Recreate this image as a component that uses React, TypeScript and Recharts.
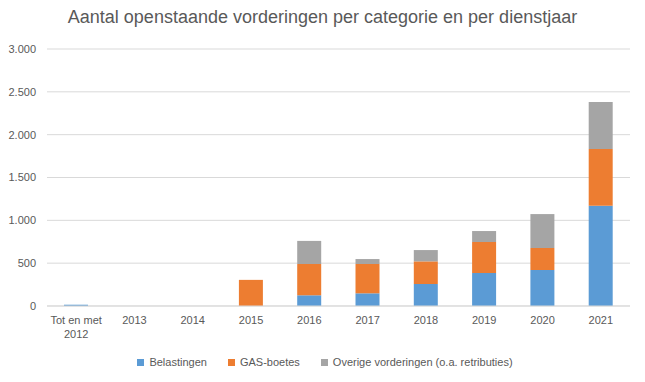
import React from "react";
import { BarChart, Bar, XAxis, YAxis, CartesianGrid, Legend } from "recharts";

const categories = ["Tot en met 2012", "2013", "2014", "2015", "2016", "2017", "2018", "2019", "2020", "2021"];
const belastingen = [15, 0, 0, 0, 125, 148, 257, 385, 420, 1170];
const gasBoetes = [0, 0, 0, 305, 365, 342, 264, 362, 257, 662];
const overige = [0, 0, 0, 0, 270, 58, 132, 128, 396, 548];
const yTicks = [0, 500, 1000, 1500, 2000, 2500, 3000];

const data = categories.map((c, i) => ({
  cat: c,
  belastingen: belastingen[i],
  gas: gasBoetes[i],
  overige: overige[i],
}));

const FONT = "'Liberation Sans', Arial, sans-serif";
const TEXT = "#595959";

const fmt = (v: number) => v.toLocaleString("nl-NL");

const CatTick = (props: any) => {
  const { x, y, payload } = props;
  const label: string = payload.value;
  const cut = label.lastIndexOf(" ");
  const lines = label.length > 6 ? [label.slice(0, cut), label.slice(cut + 1)] : [label];
  return (
    <text x={x} y={y} textAnchor="middle" fill={TEXT} fontSize={11} fontFamily={FONT}>
      {lines.map((l, i) => (
        <tspan key={i} x={x} dy={i === 0 ? 10 : 14}>{l}</tspan>
      ))}
    </text>
  );
};

const LegendContent = (props: any) => {
  const { payload } = props;
  return (
    <div style={{ display: "flex", justifyContent: "center", fontFamily: FONT, fontSize: 11, color: TEXT, paddingLeft: 20 }}>
      {payload.map((p: any, i: number) => (
        <div key={i} style={{ display: "flex", alignItems: "center", marginRight: i < payload.length - 1 ? 21 : 0 }}>
          <span style={{ display: "inline-block", width: 7, height: 7, background: p.color, marginRight: 5 }} />
          <span>{p.value}</span>
        </div>
      ))}
    </div>
  );
};

export default function App() {
  return (
    <div style={{ position: "absolute", left: 0, top: 0, width: 645, height: 382, background: "#fff" }}>
      <div style={{ position: "absolute", top: 7, left: 0, width: 645, textAlign: "center", fontFamily: FONT, fontSize: 18, color: TEXT }}>
        Aantal openstaande vorderingen per categorie en per dienstjaar
      </div>
      <BarChart width={645} height={382} data={data} margin={{ top: 49, right: 15, left: 0, bottom: 14 }} barSize={24}>
        <CartesianGrid vertical={false} stroke="#D9D9D9" />
        <XAxis dataKey="cat" interval={0} tick={<CatTick />} tickLine={false} axisLine={{ stroke: "#D9D9D9" }} height={50} />
        <YAxis domain={[0, 3000]} ticks={yTicks} tickFormatter={fmt} width={47} axisLine={false} tickLine={false}
          tick={{ fill: TEXT, fontSize: 11, fontFamily: FONT, dx: -3 }} />
        <Legend verticalAlign="bottom" content={<LegendContent />} />
        <Bar dataKey="belastingen" name="Belastingen" stackId="a" fill="#5B9BD5" isAnimationActive={false} />
        <Bar dataKey="gas" name="GAS-boetes" stackId="a" fill="#ED7D31" isAnimationActive={false} />
        <Bar dataKey="overige" name="Overige vorderingen (o.a. retributies)" stackId="a" fill="#A5A5A5" isAnimationActive={false} />
      </BarChart>
    </div>
  );
}
